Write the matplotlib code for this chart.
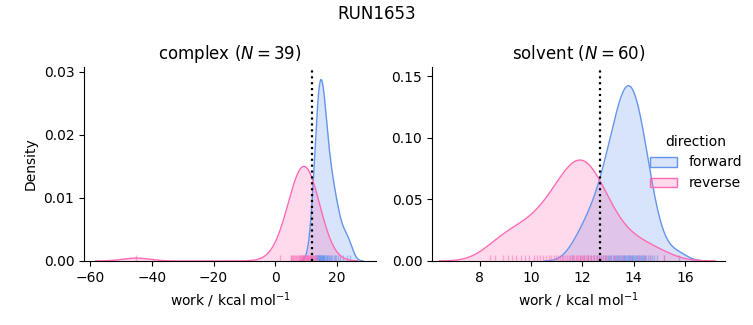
import numpy as np
import matplotlib.pyplot as plt

# nonequilibrium work values (kcal/mol) for each phase and protocol direction
complex_forward = [12.3, 12.8, 13.2, 13.5, 13.6, 13.7, 13.9, 14.1, 14.2, 14.3,
                   14.4, 14.6, 14.7, 14.8, 14.9, 15.1, 15.2, 15.4, 15.5, 15.7,
                   15.9, 16.0, 16.1, 16.4, 16.7, 17.0, 17.3, 17.6, 17.9, 18.2,
                   18.6, 19.0, 19.4, 19.9, 20.4, 21.0, 22.2, 23.2, 24.3]
complex_reverse = [-45.2, 1.6, 5.0, 5.3, 5.6, 5.8, 6.1, 6.5, 6.9, 7.2,
                   7.5, 7.8, 8.0, 8.2, 8.4, 8.6, 8.8, 9.0, 9.1, 9.2,
                   9.4, 9.6, 9.8, 10.0, 10.2, 10.4, 10.6, 10.8, 11.0, 11.2,
                   11.4, 11.6, 11.8, 12.0, 12.3, 12.6, 12.9, 13.2, 13.7]
solvent_forward = [11.6, 11.9, 12.08, 12.2, 12.32, 12.44, 12.55, 12.64, 12.72, 12.8,
                   12.87, 12.93, 12.98, 13.03, 13.08, 13.13, 13.18, 13.23, 13.28, 13.32,
                   13.36, 13.4, 13.44, 13.48, 13.52, 13.55, 13.58, 13.61, 13.64, 13.67,
                   13.7, 13.73, 13.77, 13.8, 13.83, 13.86, 13.89, 13.92, 13.95, 13.98,
                   14.02, 14.05, 14.09, 14.13, 14.17, 14.21, 14.24, 14.27, 14.31, 14.35,
                   14.39, 14.43, 14.47, 14.55, 14.63, 14.71, 14.8, 14.92, 15.2, 15.75]
solvent_reverse = [8.4, 8.6, 8.9, 9.1, 9.25, 9.4, 9.6, 9.75, 9.92, 10.1,
                   10.22, 10.34, 10.46, 10.58, 10.68, 10.78, 10.88, 10.96, 11.05, 11.12,
                   11.19, 11.26, 11.33, 11.4, 11.47, 11.53, 11.58, 11.63, 11.68, 11.73,
                   11.78, 11.84, 11.9, 11.96, 12.0, 12.02, 12.07, 12.12, 12.17, 12.22,
                   12.28, 12.34, 12.4, 12.46, 12.52, 12.58, 12.65, 12.72, 12.8, 12.88,
                   12.96, 13.1, 13.25, 13.4, 13.6, 13.85, 14.15, 14.4, 14.65, 15.2]

# free energy estimate per phase (dotted line)
complex_estimate = 12.0
solvent_estimate = 12.68

colors = {'forward': '#6495ED', 'reverse': '#FF69B4'}

# densities are normalised over every row of the table (both phases, both directions)
n_total = len(complex_forward) + len(complex_reverse) + len(solvent_forward) + len(solvent_reverse)


def kde_curve(values, gridsize=200, cut=3):
    x = np.asarray(values, dtype=float)
    bw = x.std(ddof=1) * len(x) ** (-1 / 5)  # scott
    grid = np.linspace(x.min() - cut * bw, x.max() + cut * bw, gridsize)
    dens = np.exp(-0.5 * ((grid[:, None] - x[None, :]) / bw) ** 2).sum(axis=1)
    dens = dens / (bw * np.sqrt(2 * np.pi) * n_total)
    return grid, dens


fig = plt.figure(figsize=(7.53, 3.25), dpi=100)
ax1 = fig.add_axes([0.1116, 0.197, 0.3878, 0.597])
ax2 = fig.add_axes([0.5737, 0.197, 0.389, 0.597])

panels = [
    (ax1, 'complex', complex_forward, complex_reverse, complex_estimate),
    (ax2, 'solvent', solvent_forward, solvent_reverse, solvent_estimate),
]

for ax, phase, fwd, rev, est in panels:
    for direction, vals in (('forward', fwd), ('reverse', rev)):
        c = colors[direction]
        g, d = kde_curve(vals)
        ax.fill_between(g, 0, d, color=c, alpha=0.25, lw=0)
        ax.plot(g, d, color=c, lw=1.0)
        ax.vlines(vals, 0, 0.03, transform=ax.get_xaxis_transform(),
                  color=c, alpha=0.5, lw=1.0)
    ax.axvline(est, color='black', ls=':', lw=1.6)
    ax.set_title(f'{phase} ($N = {len(fwd)}$)', fontsize=12)
    ax.set_xlabel('work / kcal mol$^{-1}$')
    ax.spines['top'].set_visible(False)
    ax.spines['right'].set_visible(False)

ax1.set_xlim(-62.1, 32.8)
ax1.set_ylim(0, 0.0308)
ax1.set_xticks([-60, -40, -20, 0, 20])
ax1.set_yticks([0, 0.01, 0.02, 0.03])
ax1.set_ylabel('Density')

ax2.set_xlim(6.13, 17.56)
ax2.set_ylim(0, 0.1575)
ax2.set_xticks([8, 10, 12, 14, 16])
ax2.set_yticks([0, 0.05, 0.10, 0.15])

handles = []
for direction in ('forward', 'reverse'):
    c = colors[direction]
    rgb = plt.matplotlib.colors.to_rgb(c)
    handles.append(plt.Rectangle((0, 0), 1, 1, facecolor=(*rgb, 0.25),
                                 edgecolor=c, lw=1.0, label=direction))

fig.legend(handles=handles, title='direction', loc='center left',
           bbox_to_anchor=(0.846, 0.5), frameon=False, fontsize=10,
           title_fontsize=10)
fig.suptitle('RUN1653', fontsize=12, y=0.985)

fig.savefig('out.png', dpi=100)
